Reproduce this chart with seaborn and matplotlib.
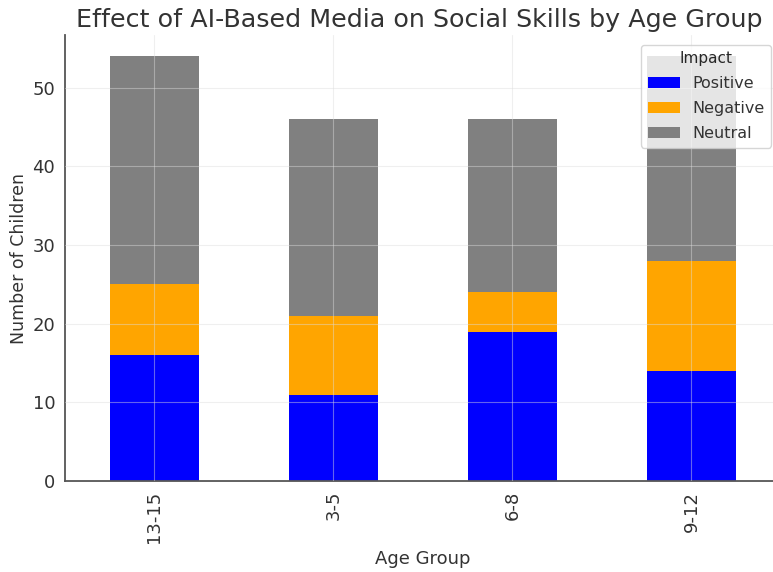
import matplotlib
matplotlib.use("Agg")
import matplotlib.pyplot as plt
import seaborn as sns
import pandas as pd
import numpy as np

age_groups = ["13-15", "3-5", "6-8", "9-12"]
positive = [16, 11, 19, 14]
negative = [9, 10, 5, 14]
neutral = [29, 25, 22, 26]

impacts = ["Positive", "Negative", "Neutral"]
colors = {"Positive": "#0000ff", "Negative": "#ffa500", "Neutral": "#808080"}

df = pd.DataFrame({"Age Group": age_groups, "Positive": positive,
                   "Negative": negative, "Neutral": neutral})
# cumulative heights so each layer sits on top of the previous ones
df["cum_Positive"] = df["Positive"]
df["cum_Negative"] = df["cum_Positive"] + df["Negative"]
df["cum_Neutral"] = df["cum_Negative"] + df["Neutral"]

sns.set_style("white")
fig, ax = plt.subplots(figsize=(7.73, 5.72), dpi=100)

for imp in reversed(impacts):
    sns.barplot(data=df, x="Age Group", y=f"cum_{imp}", order=age_groups,
                color=colors[imp], width=0.5, saturation=1, ax=ax,
                label=imp, linewidth=0)

ax.set_axisbelow(False)
ax.grid(True, color="#dddddd", alpha=0.45, linewidth=0.8)
ax.set_ylim(0, 56.7)
ax.set_xlim(-0.5, 3.5)
ax.set_yticks(range(0, 51, 10))

for s in ["top", "right"]:
    ax.spines[s].set_visible(False)
for s in ["left", "bottom"]:
    ax.spines[s].set_color("#555555")
    ax.spines[s].set_linewidth(1.3)

ax.tick_params(axis="both", labelsize=13, colors="#333333", length=0, pad=7)
plt.setp(ax.get_xticklabels(), rotation=90)
ax.set_xlabel("Age Group", fontsize=13, color="#333333", labelpad=5)
ax.set_ylabel("Number of Children", fontsize=12.5, color="#333333", labelpad=3)

fig.subplots_adjust(left=0.084, right=1.0103, top=0.9388, bottom=0.159)

fig.text(0.543, 0.952, "Effect of AI-Based Media on Social Skills by Age Group",
         fontsize=18.3, color="#333333", ha="center", va="baseline")

handles, labels = ax.get_legend_handles_labels()
order = [labels.index(l) for l in impacts]
ax.legend([handles[i] for i in order], impacts, title="Impact",
          loc="upper right", bbox_to_anchor=(0.9974, 0.9213),
          bbox_transform=fig.transFigure, borderaxespad=0,
          fontsize=11.5, title_fontsize=11, framealpha=0.8,
          labelspacing=0.62, labelcolor="#333333")

fig.savefig("out.png", dpi=100)
